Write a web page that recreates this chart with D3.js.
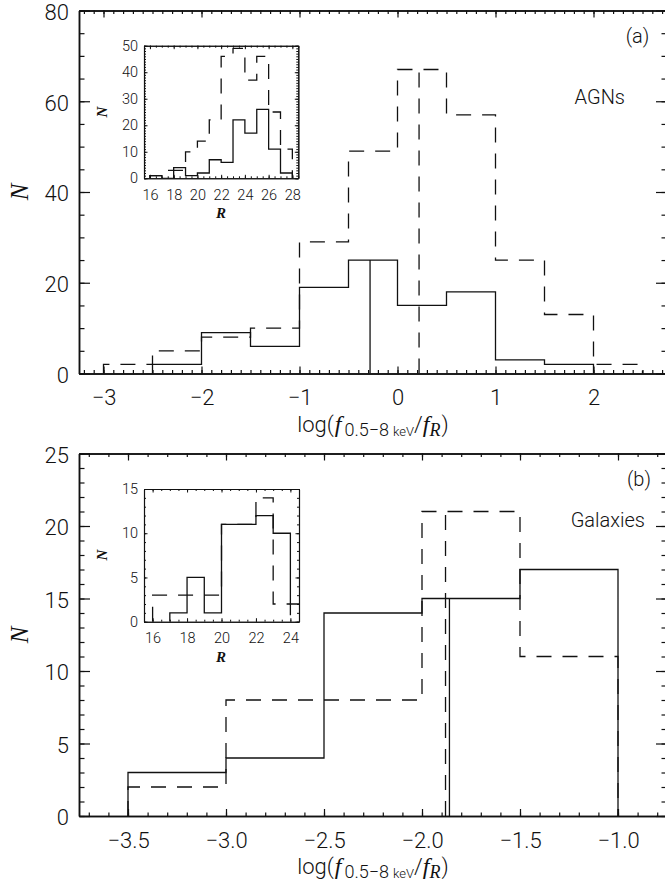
<!DOCTYPE html>
<html>
<head>
<meta charset="utf-8">
<script src="https://cdn.jsdelivr.net/npm/d3@7"></script>
<style>
  body { margin: 0; background: #fff; }
  svg { display: block; }
  text { font-family: Roboto, "Liberation Sans", Arial, sans-serif; font-weight: 300; fill: #111; }
  .domain, .tick line { stroke: #111; }
</style>
</head>
<body>
<svg id="fig" width="665" height="882"></svg>
<script>
// ---------------- data ----------------
// (a) AGNs: distribution of log(f_X / f_R), 0.5-dex bins
const agnEdges  = [-3.0, -2.5, -2.0, -1.5, -1.0, -0.5, 0.0, 0.5, 1.0, 1.5, 2.0, 2.5];
const agnSolid  = [0, 2, 9, 6, 19, 25, 15, 18, 3, 2, 0];
const agnDashed = [2, 5, 8, 10, 29, 49, 67, 57, 25, 13, 2];
const agnMedianSolid = -0.28;
const agnMedianDashed = 0.22;

// (a) inset: R-band magnitudes of the AGNs
const agnREdges  = [16, 17, 18, 19, 20, 21, 22, 23, 24, 25, 26, 27, 28];
const agnRSolid  = [1, 0, 4, 1, 2, 7, 6, 22, 17, 26, 11, 2];
const agnRDashed = [1, 3, 3, 10, 14, 22, 46, 49, 37, 46, 25, 11];

// (b) Galaxies
const galEdges  = [-3.5, -3.0, -2.5, -2.0, -1.5, -1.0];
const galSolid  = [3, 4, 14, 15, 17];
const galDashed = [2, 8, 8, 21, 11];
const galMedianSolid = -1.86;
const galMedianDashed = -1.88;

// (b) inset: R-band magnitudes of the galaxies
const galREdges  = [16, 17, 18, 19, 20, 21, 22, 23, 24, 25];
const galRSolid  = [0, 1, 5, 1, 11, 11, 12, 10, 2];
const galRDashed = [3, 3, 3, 3, 11, 11, 14, 2, 0];

// tick values
const agnXTicks = [-3, -2, -1, 0, 1, 2];
const agnYTicks = [0, 20, 40, 60, 80];
const galXTicks = [-3.5, -3.0, -2.5, -2.0, -1.5, -1.0];
const galYTicks = [0, 5, 10, 15, 20, 25];
const agnRXTicks = [16, 18, 20, 22, 24, 26, 28];
const agnRYTicks = [0, 10, 20, 30, 40, 50];
const galRXTicks = [16, 18, 20, 22, 24];
const galRYTicks = [0, 5, 10, 15];

// ---------------- drawing ----------------
const svg = d3.select('#fig');
let clipId = 0;
const SERIF = '"Liberation Serif", "Times New Roman", serif';

// step outline of a histogram: rises from zero at the first filled bin, falls back at the last
function stepPoints(edges, vals) {
  const i0 = vals.findIndex(v => v > 0);
  let i1 = vals.length - 1;
  while (i1 > 0 && vals[i1] <= 0) i1--;
  const pts = [[edges[i0], 0]];
  for (let i = i0; i <= i1; i++) {
    pts.push([edges[i], vals[i]], [edges[i + 1], vals[i]]);
  }
  pts.push([edges[i1 + 1], 0]);
  return pts;
}

// box with inward ticks on all four sides; labels on bottom and left
function frame(g, x, y, o) {
  const [x0, x1] = x.range();
  const [y0, y1] = y.range();
  const setup = sel => {
    sel.selectAll('.domain').attr('stroke-width', o.frameWidth);
    sel.selectAll('.tick line').attr('stroke-width', o.tickWidth);
  };
  const side = (axis, tx, ty) => g.append('g').attr('transform', `translate(${tx},${ty})`).call(axis).call(setup);

  // minor ticks
  side(d3.axisBottom(x).tickValues(o.xMinor).tickSizeInner(-o.xMinorLen).tickSizeOuter(0).tickFormat(''), 0, y0);
  side(d3.axisTop(x).tickValues(o.xMinor).tickSizeInner(-o.xMinorLen).tickSizeOuter(0).tickFormat(''), 0, y1);
  side(d3.axisLeft(y).tickValues(o.yMinor).tickSizeInner(-o.yMinorLen).tickSizeOuter(0).tickFormat(''), x0, 0);
  side(d3.axisRight(y).tickValues(o.yMinor).tickSizeInner(-o.yMinorLen).tickSizeOuter(0).tickFormat(''), x1, 0);
  // major ticks, labelled on bottom and left
  const bx = side(d3.axisBottom(x).tickValues(o.xMajor).tickSizeInner(-o.xMajorLen).tickSizeOuter(0)
    .tickPadding(o.xPad).tickFormat(o.xFormat), 0, y0);
  side(d3.axisTop(x).tickValues(o.xMajor).tickSizeInner(-o.xMajorLen).tickSizeOuter(0).tickFormat(''), 0, y1);
  const ly = side(d3.axisLeft(y).tickValues(o.yMajor).tickSizeInner(-o.yMajorLen).tickSizeOuter(0)
    .tickPadding(o.yPad).tickFormat(o.yFormat), x0, 0);
  side(d3.axisRight(y).tickValues(o.yMajor).tickSizeInner(-o.yMajorLen).tickSizeOuter(0).tickFormat(''), x1, 0);
  [bx, ly].forEach(a => a.selectAll('text')
    .attr('font-size', o.fontSize).attr('font-family', null).attr('fill', '#111'));
  ly.selectAll('text').attr('dy', o.yDy);
  g.selectAll('.domain').attr('stroke', '#111');
}

function histogram(g, x, y, edges, vals, dashed) {
  const line = d3.line().x(d => x(d[0])).y(d => y(d[1]));
  g.append('path')
    .attr('d', line(stepPoints(edges, vals)))
    .attr('fill', 'none')
    .attr('stroke', '#111')
    .attr('stroke-width', 1.3)
    .attr('stroke-dasharray', dashed ? '15,11' : null);
}

// vertical median marker, up to the height of the bin it falls in
function medianLine(g, x, y, edges, vals, xv, dashed) {
  const bin = edges.findIndex((e, i) => xv >= e && xv < edges[i + 1]);
  g.append('line')
    .attr('x1', x(xv)).attr('x2', x(xv))
    .attr('y1', y(0)).attr('y2', y(vals[bin]))
    .attr('stroke', '#111').attr('stroke-width', 1.3)
    .attr('stroke-dasharray', dashed ? '15,11' : null);
}

function clipped(x, y) {
  const id = 'clip' + (clipId++);
  const [x0, x1] = x.range();
  const [y0, y1] = y.range();
  svg.append('clipPath').attr('id', id).append('rect')
    .attr('x', x0).attr('y', y1).attr('width', x1 - x0).attr('height', y0 - y1);
  return svg.append('g').attr('clip-path', `url(#${id})`);
}

// italic serif piece inside the axis title
function serifSpan(t, size, txt) {
  return t.append('tspan')
    .style('font-family', SERIF).style('font-style', 'italic').style('font-weight', '400')
    .style('font-size', size + 'px').text(txt);
}

// x-axis title: log(f_{0.5-8 keV} / f_R)
function xTitle(cx, by) {
  const t = svg.append('text').attr('x', cx).attr('y', by)
    .attr('text-anchor', 'middle').style('font-size', '22px');
  t.append('tspan').text('log(');
  serifSpan(t, 24, 'f').attr('dx', 1);
  t.append('tspan').style('font-size', '18px').attr('dy', 4).attr('dx', 3).text('0.5−8');
  t.append('tspan').style('font-size', '13px').attr('dx', 4).text('keV');
  t.append('tspan').style('font-size', '22px').attr('dy', -4).text('/');
  serifSpan(t, 24, 'f');
  serifSpan(t, 18, 'R').attr('dy', 4);
  t.append('tspan').style('font-size', '22px').attr('dy', -4).attr('dx', 1).text(')');
}

function yTitle(cx, cy, size, bold) {
  svg.append('text')
    .attr('transform', `translate(${cx},${cy}) rotate(-90)`)
    .attr('text-anchor', 'middle').attr('dy', '0.35em')
    .style('font-family', SERIF).style('font-style', 'italic')
    .style('font-weight', bold ? '700' : '400')
    .style('font-size', size + 'px').text('N');
}

function rLabel(cx, by) {
  svg.append('text').attr('x', cx).attr('y', by).attr('text-anchor', 'middle')
    .style('font-family', SERIF).style('font-style', 'italic')
    .style('font-weight', '700').style('font-size', '15px').text('R');
}

function note(x, y, anchor, txt) {
  svg.append('text').attr('x', x).attr('y', y).attr('text-anchor', anchor)
    .style('font-size', '20px').text(txt);
}

const mainOpts = {
  frameWidth: 1.5, tickWidth: 1.2,
  xMinorLen: 3.5, xMajorLen: 7, yMinorLen: 5.5, yMajorLen: 11,
  fontSize: 22, xPad: 16, yPad: 10, yDy: '0.4em'
};
const insetOpts = {
  frameWidth: 1.1, tickWidth: 1,
  xMinorLen: 2, xMajorLen: 3.5, yMinorLen: 2, yMajorLen: 3.5,
  fontSize: 14.5, xPad: 11, yPad: 6, yDy: '0.32em'
};

// ===== panel (a) =====
{
  const x = d3.scaleLinear().domain([-3.25, 2.75]).range([79, 667]);
  const y = d3.scaleLinear().domain([0, 80]).range([373.5, 10.5]);
  const g = clipped(x, y);
  histogram(g, x, y, agnEdges, agnSolid, false);
  histogram(g, x, y, agnEdges, agnDashed, true);
  medianLine(g, x, y, agnEdges, agnSolid, agnMedianSolid, false);
  medianLine(g, x, y, agnEdges, agnDashed, agnMedianDashed, true);
  frame(svg.append('g'), x, y, Object.assign({}, mainOpts, {
    xMajor: agnXTicks, xMinor: d3.range(-32, 28).map(i => i / 10),
    yMajor: agnYTicks, yMinor: d3.range(0, 81, 5),
    xFormat: d3.format('d'), yFormat: d3.format('d')
  }));
  note(637.5, 43, 'middle', '(a)');
  note(625, 103.5, 'end', 'AGNs');
  yTitle(19, 192, 25, false);
  xTitle(373, 432);

  // inset: R magnitudes
  const xi = d3.scaleLinear().domain([15.5, 28.5]).range([144, 298.3]);
  const yi = d3.scaleLinear().domain([0, 50]).range([178.3, 45.7]);
  const gi = clipped(xi, yi);
  histogram(gi, xi, yi, agnREdges, agnRSolid, false);
  histogram(gi, xi, yi, agnREdges, agnRDashed, true);
  frame(svg.append('g'), xi, yi, Object.assign({}, insetOpts, {
    xMajor: agnRXTicks, xMinor: d3.range(31, 58).map(i => i / 2),
    yMajor: agnRYTicks, yMinor: d3.range(0, 51, 1),
    xFormat: d3.format('d'), yFormat: d3.format('d')
  }));
  yTitle(102, 112, 15, true);
  rLabel(221, 218);
}

// ===== panel (b) =====
{
  const x = d3.scaleLinear().domain([-3.75, -0.75]).range([79, 667]);
  const y = d3.scaleLinear().domain([0, 25]).range([816, 453.5]);
  const g = clipped(x, y);
  histogram(g, x, y, galEdges, galSolid, false);
  histogram(g, x, y, galEdges, galDashed, true);
  medianLine(g, x, y, galEdges, galSolid, galMedianSolid, false);
  medianLine(g, x, y, galEdges, galDashed, galMedianDashed, true);
  frame(svg.append('g'), x, y, Object.assign({}, mainOpts, {
    xMajor: galXTicks, xMinor: d3.range(-37, -7).map(i => i / 10),
    yMajor: galYTicks, yMinor: d3.range(0, 26, 1),
    xFormat: d3.format('.1f'), yFormat: d3.format('d')
  }));
  note(639, 486, 'middle', '(b)');
  note(645, 527, 'end', 'Galaxies');
  yTitle(19, 635, 25, false);
  xTitle(373, 874);

  // inset: R magnitudes
  const xi = d3.scaleLinear().domain([15.5, 24.5]).range([144, 299]);
  const yi = d3.scaleLinear().domain([0, 15]).range([621.7, 489]);
  const gi = clipped(xi, yi);
  histogram(gi, xi, yi, galREdges, galRSolid, false);
  histogram(gi, xi, yi, galREdges, galRDashed, true);
  frame(svg.append('g'), xi, yi, Object.assign({}, insetOpts, {
    xMajor: galRXTicks, xMinor: d3.range(31, 50).map(i => i / 2),
    yMajor: galRYTicks, yMinor: d3.range(0, 16, 1),
    xFormat: d3.format('d'), yFormat: d3.format('d')
  }));
  yTitle(102, 555, 15, true);
  rLabel(221, 662);
}
</script>
</body>
</html>
